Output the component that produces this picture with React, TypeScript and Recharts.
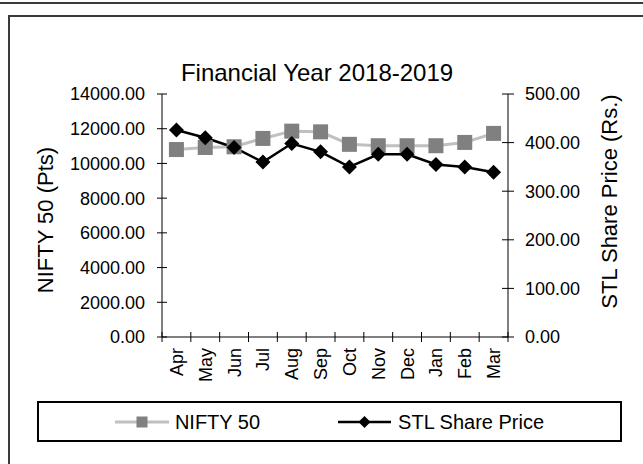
import React from 'react';
import { LineChart, Line, XAxis, YAxis, Legend } from 'recharts';

const months = ['Apr', 'May', 'Jun', 'Jul', 'Aug', 'Sep', 'Oct', 'Nov', 'Dec', 'Jan', 'Feb', 'Mar'];
const nifty = [10800, 10920, 10960, 11440, 11860, 11820, 11100, 11020, 11020, 11020, 11210, 11730];
const stl = [426, 410, 390, 360, 398, 381, 350, 376, 376, 355, 350, 339];
const niftyTicks = [0, 2000, 4000, 6000, 8000, 10000, 12000, 14000];
const stlTicks = [0, 100, 200, 300, 400, 500];
const chartTitle = 'Financial Year 2018-2019';
const seriesNames = ['NIFTY 50', 'STL Share Price'];
const leftAxisTitle = 'NIFTY 50 (Pts)';
const rightAxisTitle = 'STL Share Price (Rs.)';

const data = months.map((m, i) => ({ month: m, pos: i + 0.5, nifty: nifty[i], stl: stl[i] }));
const xTicks = Array.from({ length: months.length * 2 + 1 }, (_, i) => i / 2);

const FONT = '"Liberation Sans", Arial, Helvetica, sans-serif';

const XTick = (props: any) => {
  const { x, y, payload } = props;
  const v = payload.value;
  if (Number.isInteger(v)) {
    return <line x1={x} x2={x} y1={y - 5} y2={y + 5} stroke="#000" strokeWidth={1} />;
  }
  const label = months[Math.floor(v)];
  const ax = x + 6.5;
  const ay = y + 11;
  return (
    <text x={ax} y={ay} transform={`rotate(-90, ${ax}, ${ay})`} textAnchor="end" fontSize={18} fontFamily={FONT} fill="#000">
      {label}
    </text>
  );
};

const LeftTick = (props: any) => {
  const { x, y, payload } = props;
  return (
    <g>
      <line x1={x - 5} x2={x + 5} y1={y} y2={y} stroke="#000" strokeWidth={1} />
      <text x={x - 17} y={y} dy="0.36em" textAnchor="end" fontSize={18} fontFamily={FONT} fill="#000">
        {Number(payload.value).toFixed(2)}
      </text>
    </g>
  );
};

const RightTick = (props: any) => {
  const { x, y, payload } = props;
  return (
    <g>
      <line x1={x - 6} x2={x + 6} y1={y} y2={y} stroke="#000" strokeWidth={1} />
      <text x={x + 17} y={y} dy="0.36em" textAnchor="start" fontSize={18} fontFamily={FONT} fill="#000">
        {Number(payload.value).toFixed(2)}
      </text>
    </g>
  );
};

const LeftTitle = (props: any) => {
  const vb = props.viewBox || { x: 0, y: 94, width: 162, height: 243 };
  const ax = vb.x + 53;
  const ay = vb.y + vb.height / 2 + 4.5;
  return (
    <text x={ax} y={ay} transform={`rotate(-90, ${ax}, ${ay})`} textAnchor="middle" fontSize={22} fontFamily={FONT} fill="#000">
      {leftAxisTitle}
    </text>
  );
};

const RightTitle = (props: any) => {
  const vb = props.viewBox || { x: 508, y: 94, width: 135, height: 243 };
  const ax = vb.x + 109;
  const ay = vb.y + vb.height / 2 - 14;
  return (
    <text x={ax} y={ay} transform={`rotate(-90, ${ax}, ${ay})`} textAnchor="middle" fontSize={22} fontFamily={FONT} fill="#000">
      {rightAxisTitle}
    </text>
  );
};

const SquareDot = (props: any) => {
  const { cx, cy } = props;
  if (cx == null || cy == null) return null;
  return <rect x={cx - 7.5} y={cy - 7.5} width={15} height={15} fill="#808080" />;
};

const DiamondDot = (props: any) => {
  const { cx, cy } = props;
  if (cx == null || cy == null) return null;
  const r = 7.5;
  return <polygon points={`${cx},${cy - r} ${cx + r},${cy} ${cx},${cy + r} ${cx - r},${cy}`} fill="#000" />;
};

const LegendContent = () => (
  <div
    style={{
      boxSizing: 'border-box',
      height: 41,
      width: 585,
      border: '2px solid #000',
      display: 'flex',
      alignItems: 'center',
      justifyContent: 'center',
      gap: 78,
      fontFamily: FONT,
      fontSize: 20,
      color: '#000',
      background: '#fff',
    }}
  >
    <div style={{ display: 'flex', alignItems: 'center' }}>
      <svg width={54} height={14} style={{ display: 'block' }}>
        <line x1={0} x2={54} y1={7} y2={7} stroke="#c0c0c0" strokeWidth={3} />
        <rect x={21.5} y={1.5} width={11} height={11} fill="#808080" />
      </svg>
      <span style={{ marginLeft: 6, lineHeight: '22px' }}>{seriesNames[0]}</span>
    </div>
    <div style={{ display: 'flex', alignItems: 'center' }}>
      <svg width={53} height={14} style={{ display: 'block' }}>
        <line x1={0} x2={53} y1={7} y2={7} stroke="#000" strokeWidth={2.5} />
        <polygon points="26.5,1 32.5,7 26.5,13 20.5,7" fill="#000" />
      </svg>
      <span style={{ marginLeft: 7, lineHeight: '22px' }}>{seriesNames[1]}</span>
    </div>
  </div>
);

export default function App() {
  return (
    <div style={{ position: 'absolute', left: 0, top: 0, width: 643, height: 464, overflow: 'hidden', background: '#fff' }}>
      <div style={{ position: 'absolute', left: 0, top: 2, width: 643, height: 2, background: '#3a3a3a' }} />
      <div
        style={{
          position: 'absolute',
          left: 8,
          top: 15,
          width: 700,
          height: 500,
          borderLeft: '2px solid #3a3a3a',
          borderTop: '2px solid #3a3a3a',
        }}
      />
      <div
        style={{
          position: 'absolute',
          left: 0,
          top: 60,
          width: 634,
          height: 26,
          lineHeight: '26px',
          textAlign: 'center',
          fontFamily: FONT,
          fontSize: 24,
          color: '#000',
        }}
      >
        {chartTitle}
      </div>
      <div style={{ position: 'absolute', left: 0, top: 0 }}>
        <LineChart width={643} height={464} data={data} margin={{ top: 94, right: 0, bottom: 22, left: 0 }}>
          <XAxis
            dataKey="pos"
            type="number"
            domain={[0, 12]}
            ticks={xTicks}
            interval={0}
            tickSize={0}
            tickMargin={0}
            tickLine={false}
            axisLine={{ stroke: '#000', strokeWidth: 1 }}
            tick={<XTick />}
            height={64}
            allowDataOverflow
          />
          <YAxis
            yAxisId="left"
            orientation="left"
            domain={[0, 14000]}
            ticks={niftyTicks}
            interval={0}
            width={162}
            tickSize={0}
            tickMargin={0}
            tickLine={false}
            axisLine={{ stroke: '#000', strokeWidth: 1 }}
            tick={<LeftTick />}
            label={<LeftTitle />}
          />
          <YAxis
            yAxisId="right"
            orientation="right"
            domain={[0, 500]}
            ticks={stlTicks}
            interval={0}
            width={135}
            tickSize={0}
            tickMargin={0}
            tickLine={false}
            axisLine={{ stroke: '#000', strokeWidth: 1 }}
            tick={<RightTick />}
            label={<RightTitle />}
          />
          <Legend
            verticalAlign="bottom"
            align="center"
            content={<LegendContent />}
            wrapperStyle={{ left: 37, width: 585 }}
          />
          <Line
            yAxisId="left"
            dataKey="nifty"
            name={seriesNames[0]}
            stroke="#c0c0c0"
            strokeWidth={3}
            isAnimationActive={false}
            activeDot={false}
            dot={(p: any) => <SquareDot key={`sq-${p.index}`} {...p} />}
          />
          <Line
            yAxisId="right"
            dataKey="stl"
            name={seriesNames[1]}
            stroke="#000"
            strokeWidth={2.5}
            isAnimationActive={false}
            activeDot={false}
            dot={(p: any) => <DiamondDot key={`dm-${p.index}`} {...p} />}
          />
        </LineChart>
      </div>
    </div>
  );
}
